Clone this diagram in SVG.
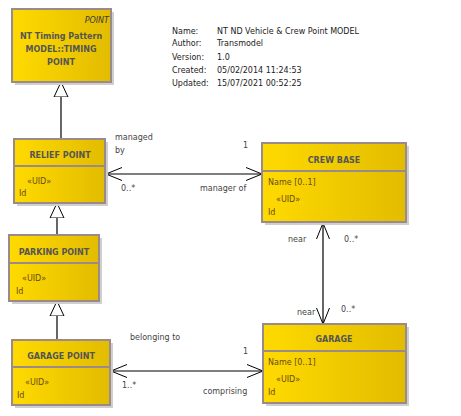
<svg xmlns="http://www.w3.org/2000/svg" width="461" height="416" viewBox="0 0 461 416">
<defs>
<linearGradient id="gold" x1="0" y1="0" x2="1" y2="0">
<stop offset="0" stop-color="#FFDA00"/>
<stop offset="1" stop-color="#E2BC00"/>
</linearGradient>
<marker id="open" viewBox="0 0 17 14" refX="16" refY="7" markerWidth="17" markerHeight="14" markerUnits="userSpaceOnUse" orient="auto-start-reverse">
<path d="M0,0.5 L16,7 L0,13.5" fill="none" stroke="#000" stroke-width="1"/>
</marker>
<marker id="tri" viewBox="0 0 16 16" refX="15" refY="8" markerWidth="16" markerHeight="16" markerUnits="userSpaceOnUse" orient="auto">
<path d="M0,1 L15,8 L0,15 Z" fill="#fff" stroke="#000" stroke-width="1"/>
</marker>
</defs>
<style>
text{font-family:"DejaVu Sans","Liberation Sans",sans-serif;font-size:8px;fill:#3a3a3a}
.box{fill:url(#gold);stroke:#9b8a8a;stroke-width:2}
.sh{fill:#cfcfcf}
.div{stroke:#9b8a8a;stroke-width:2}
.title{font-weight:bold;text-anchor:middle;fill:#555}
.attr{fill:#6a4a1a}
.lbl{fill:#444}
.info{fill:#222}
.ln{stroke:#000;stroke-width:1.2;fill:none}
</style>
<g id="info">
<text class="info" x="172" y="34">Name:</text><text class="info" x="217" y="34">NT ND Vehicle &amp; Crew Point MODEL</text>
<text class="info" x="172" y="46">Author:</text><text class="info" x="217" y="46">Transmodel</text>
<text class="info" x="172" y="60">Version:</text><text class="info" x="217" y="60">1.0</text>
<text class="info" x="172" y="73">Created:</text><text class="info" x="217" y="73">05/02/2014 11:24:53</text>
<text class="info" x="172" y="86">Updated:</text><text class="info" x="217" y="86">15/07/2021 00:52:25</text>
</g>
<g id="connectors">
<line class="ln" x1="61" y1="139" x2="61" y2="82" marker-end="url(#tri)"/>
<line class="ln" x1="57" y1="235" x2="57" y2="203" marker-end="url(#tri)"/>
<line class="ln" x1="57" y1="340" x2="57" y2="301" marker-end="url(#tri)"/>
<line class="ln" x1="106" y1="174" x2="262" y2="174" marker-start="url(#open)" marker-end="url(#open)"/>
<line class="ln" x1="323" y1="223" x2="323" y2="324" marker-start="url(#open)" marker-end="url(#open)"/>
<line class="ln" x1="111" y1="371" x2="263" y2="371" marker-start="url(#open)" marker-end="url(#open)"/>
<text class="lbl" x="115" y="140">managed</text>
<text class="lbl" x="115" y="153">by</text>
<text class="lbl" x="243" y="148">1</text>
<text class="lbl" x="121" y="191">0..*</text>
<text class="lbl" x="200" y="191">manager of</text>
<text class="lbl" x="288" y="242">near</text>
<text class="lbl" x="344" y="242">0..*</text>
<text class="lbl" x="297" y="315">near</text>
<text class="lbl" x="341" y="312">0..*</text>
<text class="lbl" x="130" y="340">belonging to</text>
<text class="lbl" x="243" y="354">1</text>
<text class="lbl" x="122" y="388">1..*</text>
<text class="lbl" x="203" y="394">comprising</text>
</g>
<g id="timing-point">
<rect class="sh" x="15" y="12" width="99" height="73"/>
<rect class="box" x="12" y="9" width="99" height="73"/>
<text x="109" y="23" text-anchor="end" font-style="italic" fill="#555">POINT</text>
<text class="title" x="61" y="39">NT Timing Pattern</text>
<text class="title" x="61" y="52">MODEL::TIMING</text>
<text class="title" x="61" y="65">POINT</text>
</g>
<g id="relief-point">
<rect class="sh" x="17" y="142" width="91" height="64"/>
<rect class="box" x="14" y="139" width="91" height="64"/>
<line class="div" x1="14" y1="166" x2="105" y2="166"/>
<text class="title" x="60" y="158">RELIEF POINT</text>
<text class="attr" x="27" y="184">«UID»</text>
<text class="attr" x="19" y="196">Id</text>
</g>
<g id="crew-base">
<rect class="sh" x="265" y="146" width="144" height="79"/>
<rect class="box" x="262" y="143" width="144" height="79"/>
<line class="div" x1="262" y1="171" x2="406" y2="171"/>
<text class="title" x="334" y="163">CREW BASE</text>
<text class="attr" x="268" y="185">Name [0..1]</text>
<text class="attr" x="276" y="202">«UID»</text>
<text class="attr" x="268" y="215">Id</text>
</g>
<g id="parking-point">
<rect class="sh" x="12" y="238" width="90" height="66"/>
<rect class="box" x="9" y="235" width="90" height="66"/>
<line class="div" x1="9" y1="263" x2="99" y2="263"/>
<text class="title" x="54" y="255">PARKING POINT</text>
<text class="attr" x="22" y="281">«UID»</text>
<text class="attr" x="16" y="294">Id</text>
</g>
<g id="garage-point">
<rect class="sh" x="15" y="343" width="98" height="65"/>
<rect class="box" x="12" y="340" width="98" height="65"/>
<line class="div" x1="12" y1="367" x2="110" y2="367"/>
<text class="title" x="61" y="359">GARAGE POINT</text>
<text class="attr" x="25" y="385">«UID»</text>
<text class="attr" x="17" y="398">Id</text>
</g>
<g id="garage">
<rect class="sh" x="266" y="327" width="143" height="79"/>
<rect class="box" x="263" y="324" width="143" height="79"/>
<line class="div" x1="263" y1="351" x2="406" y2="351"/>
<text class="title" x="334" y="342">GARAGE</text>
<text class="attr" x="268" y="365">Name [0..1]</text>
<text class="attr" x="276" y="382">«UID»</text>
<text class="attr" x="268" y="395">Id</text>
</g>
</svg>
